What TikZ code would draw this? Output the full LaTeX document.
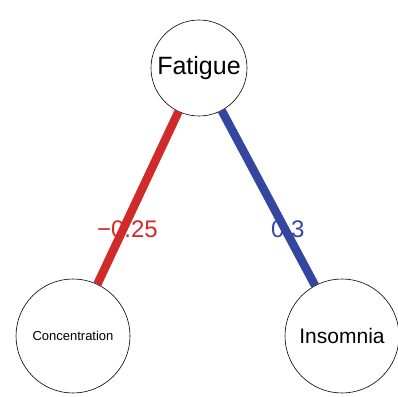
\documentclass[tikz,border=0pt]{standalone}
\usepackage{fontspec}
\setmainfont{Liberation Sans}
\usepackage{xcolor}
\usetikzlibrary{calc}

\definecolor{negcol}{RGB}{208,42,42}
\definecolor{poscol}{RGB}{52,70,160}

\tikzset{
  var/.style={draw,circle,line width=0.6pt,fill=white,inner sep=0pt},
  edgeneg/.style={negcol,line width=8.5pt},
  edgepos/.style={poscol,line width=8.5pt},
  weight/.style={font=\fontsize{24}{24}\selectfont,inner sep=0pt}
}

\begin{document}
\begin{tikzpicture}[x=1pt,y=1pt]

    \useasboundingbox (0,0) rectangle (397,397);
          % Keeps the page the same size as the reference

    \node[var,minimum size=96pt,font=\fontsize{25}{25}\selectfont] (fatigue) at (199,329) {Fatigue};
    \node[var,minimum size=114pt,font=\fontsize{13}{13}\selectfont] (conc) at (73,61) {Concentration};
    \node[var,minimum size=114pt,font=\fontsize{21}{21}\selectfont] (insom) at (342,61) {Insomnia};
          % The three variables

    \draw[edgeneg] (fatigue) -- (conc);
    \draw[edgepos] (fatigue) -- (insom);
          % Edges, coloured by sign

    \node[weight,negcol,xshift=4pt] (wneg) at ($(fatigue)!0.6!(conc)$) {−0.25};
    \node[weight,poscol,xshift=3pt] (wpos) at ($(fatigue)!0.6!(insom)$) {0.3};
          % Edge weights

\end{tikzpicture}
\end{document}
